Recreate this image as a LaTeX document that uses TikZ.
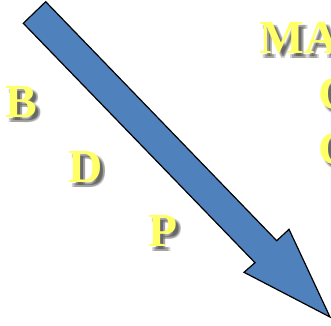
\documentclass[tikz,border=0pt]{standalone}
\usepackage{fontspec}
\setmainfont{Liberation Serif}
\definecolor{arrowblue}{HTML}{4F81BD}
\definecolor{txtyellow}{HTML}{FFFF66}
\newcommand{\shadowletter}[3]{%
  \foreach \dx/\dy in {3/3,5/5,3/5,5/3}{%
    \node[letter, text=black, opacity=0.2] at ([xshift=\dx pt, yshift=-\dy pt]#1) {#3};
  }%
  \node[letter] (#2) at (#1) {#3};
}
\begin{document}
\begin{tikzpicture}[x=1pt,y=-1pt,
  letter/.style={font=\fontsize{47.5}{50}\selectfont\bfseries, text=txtyellow, inner sep=0pt, anchor=base west},
  bigarrow/.style={fill=arrowblue, draw=black, line width=1.2pt, line join=miter}]
\useasboundingbox (0,0) rectangle (331,325);
\clip (0,0) rectangle (331,325);
\coordinate (pB) at (5,117);
\coordinate (pD) at (68,182);
\coordinate (pP) at (148,246);
\coordinate (pM) at (259,53);
\coordinate (pC1) at (318,109);
\coordinate (pC2) at (318,164);
\shadowletter{pB}{B}{B}
\shadowletter{pD}{D}{D}
\shadowletter{pP}{P}{P}
\shadowletter{pM}{MA}{MA}
\shadowletter{pC1}{C1}{C}
\shadowletter{pC2}{C2}{C}
\draw[bigarrow] (45.7,1.7) -- (276.7,240.7) -- (289,229.3) -- (330,317) -- (244,272.3) -- (255,262.7) -- (23.3,23.3) -- cycle;
\end{tikzpicture}
\end{document}
